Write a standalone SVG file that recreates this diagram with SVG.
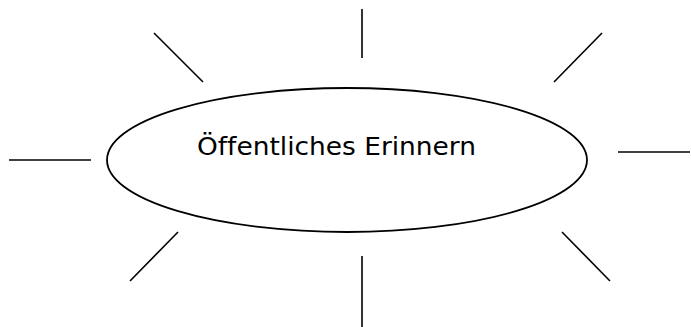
<svg xmlns="http://www.w3.org/2000/svg" width="691" height="327" viewBox="0 0 691 327">
<style>
.ray{stroke:#000;stroke-width:1.6;fill:none}
.ell{stroke:#000;stroke-width:1.8;fill:#fff}
.lbl{font-family:"DejaVu Sans",Verdana,sans-serif;font-size:24px;fill:#000;font-variant-ligatures:none;font-feature-settings:"liga" 0}
</style>
<rect width="691" height="327" fill="#fff"/>
<g id="connectors">
<line class="ray" x1="362" y1="9" x2="362" y2="58"/>
<line class="ray" x1="154" y1="33" x2="203" y2="82"/>
<line class="ray" x1="602" y1="33" x2="554" y2="82"/>
<line class="ray" x1="9" y1="160" x2="91" y2="160"/>
<line class="ray" x1="618" y1="152" x2="690" y2="152"/>
<line class="ray" x1="178" y1="232" x2="130" y2="281"/>
<line class="ray" x1="562" y1="232" x2="610" y2="281"/>
<line class="ray" x1="362" y1="256" x2="362" y2="327"/>
</g>
<g id="node-center">
<ellipse class="ell" cx="347" cy="160" rx="240" ry="72"/>
<text class="lbl" x="197" y="155" textLength="279" lengthAdjust="spacingAndGlyphs">Öffentliches Erinnern</text>
</g>
</svg>
